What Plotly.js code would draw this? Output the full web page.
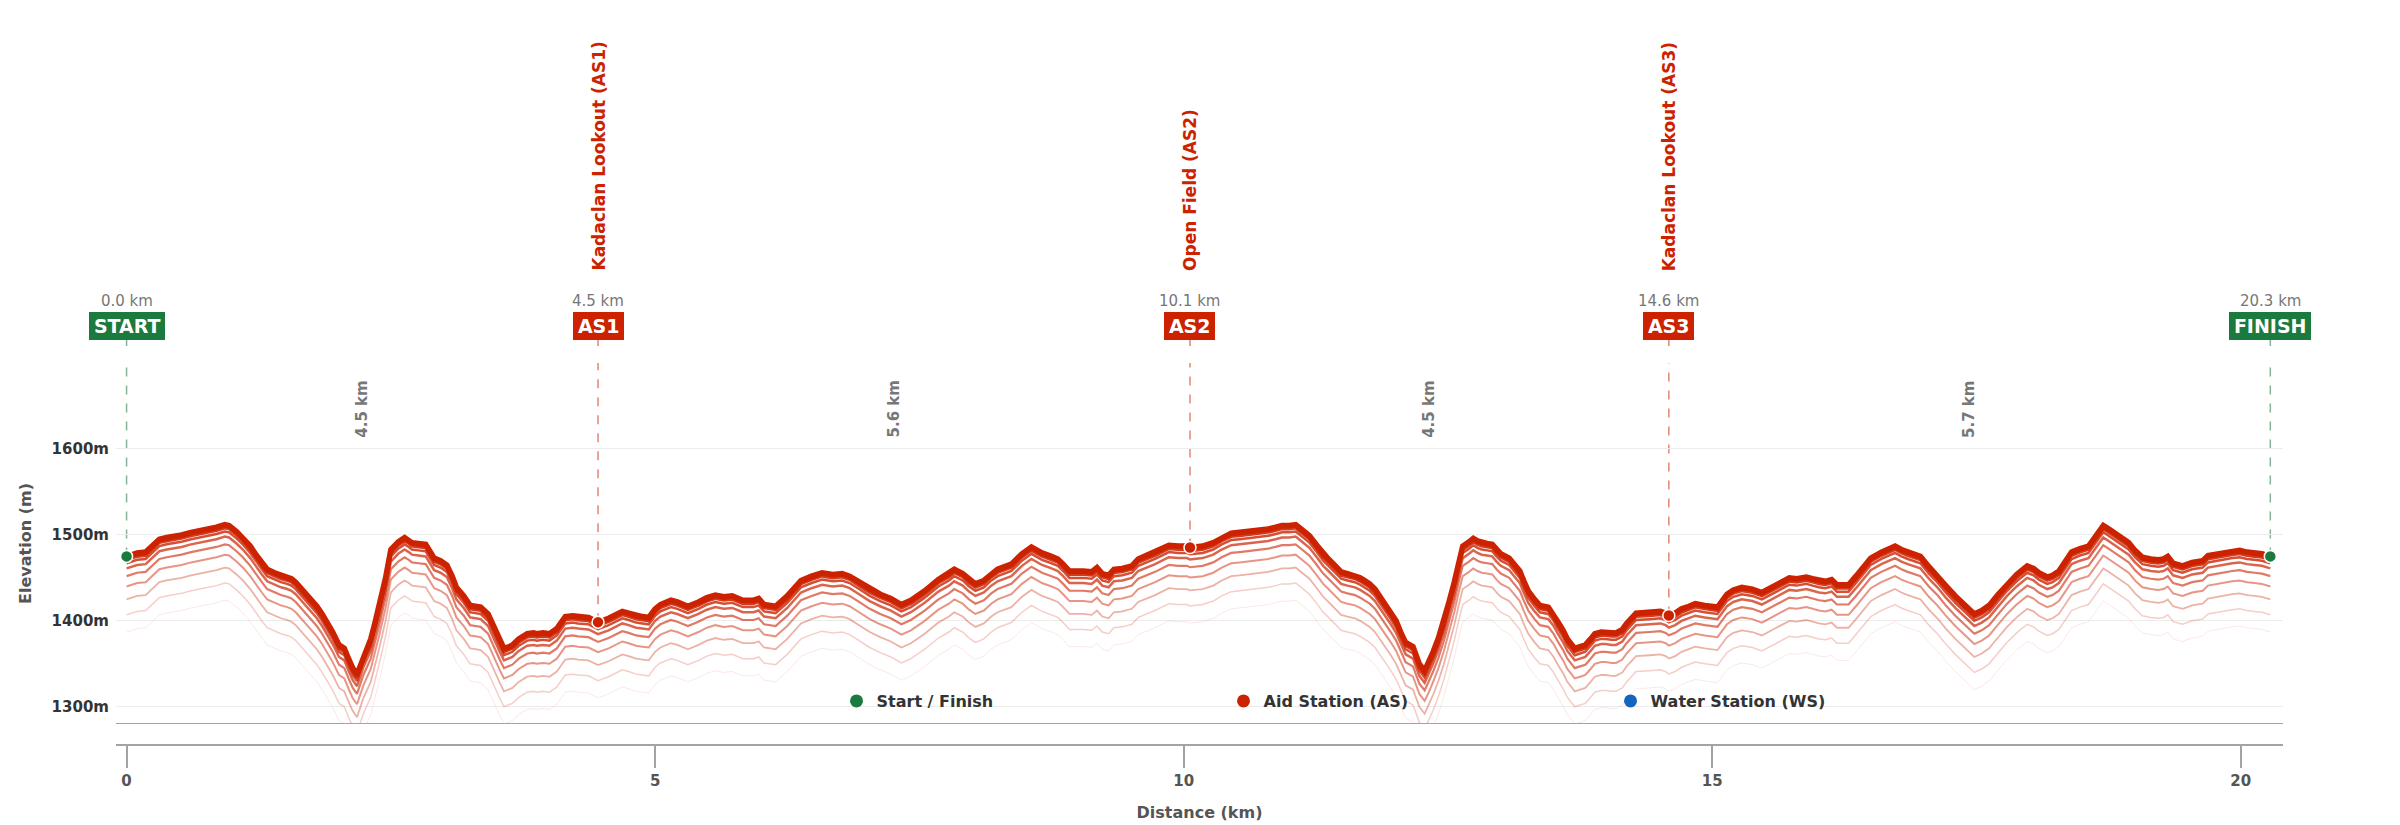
<!DOCTYPE html>
<html>
<head>
<meta charset="utf-8">
<script src="https://cdn.plot.ly/plotly-3.0.1.min.js"></script>
<style>html,body{margin:0;padding:0;background:#fff}#chart{width:2400px;height:825px}</style>
</head>
<body>
<div id="chart"></div>
<script>
// ---- data ----
const distKm = [0.00,0.05,0.10,0.18,0.25,0.31,0.38,0.44,0.52,0.61,0.70,0.77,0.85,0.93,0.97,1.04,1.10,1.17,1.23,1.28,1.33,1.40,1.46,1.52,1.56,1.60,1.65,1.70,1.75,1.80,1.85,1.90,1.95,2.01,2.06,2.10,2.14,2.18,2.21,2.24,2.31,2.35,2.39,2.45,2.50,2.57,2.63,2.67,2.70,2.76,2.83,2.87,2.91,2.97,3.03,3.08,3.12,3.19,3.25,3.30,3.35,3.42,3.48,3.53,3.57,3.62,3.65,3.71,3.79,3.85,3.88,3.94,4.00,4.07,4.15,4.22,4.27,4.37,4.42,4.46,4.56,4.62,4.69,4.75,4.82,4.88,4.94,5.00,5.05,5.15,5.21,5.31,5.41,5.49,5.57,5.65,5.73,5.83,5.93,5.98,6.03,6.14,6.25,6.38,6.48,6.58,6.68,6.77,6.84,6.93,7.03,7.13,7.23,7.33,7.42,7.55,7.68,7.78,7.83,7.91,7.97,8.03,8.11,8.18,8.24,8.37,8.47,8.56,8.66,8.75,8.81,8.86,8.92,9.05,9.13,9.18,9.23,9.29,9.34,9.42,9.51,9.57,9.65,9.73,9.86,9.95,10.03,10.06,10.18,10.28,10.36,10.45,10.53,10.61,10.70,10.80,10.87,10.93,11.00,11.06,11.12,11.19,11.26,11.32,11.37,11.42,11.49,11.55,11.62,11.67,11.71,11.76,11.81,11.86,11.91,11.96,12.01,12.06,12.10,12.17,12.23,12.28,12.32,12.36,12.41,12.46,12.51,12.56,12.60,12.64,12.70,12.74,12.78,12.82,12.87,12.92,12.96,13.00,13.08,13.13,13.18,13.22,13.26,13.32,13.37,13.45,13.50,13.54,13.59,13.63,13.70,13.75,13.80,13.85,13.89,13.95,13.99,14.05,14.09,14.15,14.19,14.28,14.35,14.41,14.51,14.56,14.59,14.65,14.71,14.78,14.84,14.93,15.00,15.05,15.14,15.20,15.28,15.38,15.47,15.53,15.59,15.66,15.73,15.80,15.89,15.95,16.01,16.07,16.13,16.18,16.24,16.29,16.36,16.43,16.50,16.60,16.73,16.79,16.85,16.97,17.05,17.13,17.21,17.30,17.39,17.48,17.55,17.62,17.70,17.79,17.88,17.98,18.04,18.09,18.17,18.22,18.28,18.34,18.40,18.48,18.56,18.63,18.70,18.75,18.80,18.87,18.94,19.00,19.07,19.15,19.22,19.27,19.31,19.36,19.45,19.54,19.60,19.64,19.69,19.77,19.85,19.92,19.99,20.06,20.13,20.20,20.28];
const elevM = [1475,1477,1479,1480,1488,1495,1497,1498,1500,1503,1505,1507,1509,1512,1511,1504,1497,1487,1476,1468,1460,1456,1453,1451,1449,1445,1438,1431,1425,1417,1408,1398,1387,1372,1368,1356,1345,1338,1348,1360,1379,1398,1418,1450,1483,1492,1497,1494,1491,1490,1489,1481,1473,1470,1465,1452,1439,1429,1418,1417,1416,1408,1391,1378,1368,1370,1372,1379,1385,1386,1385,1386,1385,1391,1405,1406,1405,1404,1401,1398.5,1403,1407,1411,1409,1406,1405,1404,1414,1419,1424,1422,1417,1422,1427,1430,1428,1429,1424,1424,1426,1419,1417,1429,1447,1452,1456,1454,1455,1452,1445,1437,1431,1426,1419,1424,1435,1448,1455,1460,1455,1448,1443,1447,1455,1460,1466,1478,1486,1479,1475,1472,1466,1458,1458,1457,1462,1455,1453,1460,1461,1464,1472,1476,1480,1488,1487,1487,1485.4,1487,1491,1497,1502,1503,1504,1505,1507,1509,1511,1511,1512,1506,1499,1488,1478,1472,1466,1457,1455,1453,1450,1447,1443,1437,1428,1420,1410,1400,1385,1375,1370,1350,1342,1352,1364,1380,1399,1422,1445,1467,1487,1492,1496,1493,1491,1490,1489,1483,1478,1473,1466,1458,1446,1435,1425,1418,1416,1408,1399,1389,1379,1368,1370,1372,1379,1385,1387,1387,1386,1386,1390,1397,1409,1410,1410,1411,1409,1406.2,1409,1414,1417,1420,1418,1417,1416,1431,1436,1439,1437,1433,1437,1441,1446,1450,1449,1451,1449,1447,1446,1448,1442,1442,1442,1452,1463,1473,1480,1487,1483,1480,1475,1463,1453,1441,1429,1418,1408,1412,1418,1430,1443,1454,1464,1461,1456,1451,1453,1458,1469,1480,1484,1487,1499,1511,1507,1503,1497,1491,1482,1474,1472,1471,1472,1475,1467,1464,1468,1469,1470,1476,1478,1480,1481,1482,1480,1479,1478,1475];

const stationCodes = ['START', 'AS1', 'AS2', 'AS3', 'FINISH'];
const stationNames = ['', 'Kadaclan Lookout (AS1)', 'Open Field (AS2)', 'Kadaclan Lookout (AS3)', ''];
const stationKm = [0.00, 4.46, 10.06, 14.59, 20.28];
const stationElev = [1475, 1398.5, 1485.4, 1406.2, 1475];
const stationKind = ['sf', 'as', 'as', 'as', 'sf'];
const legendKinds = ['sf', 'as', 'ws'];
const legendNames = ['Start / Finish', 'Aid Station (AS)', 'Water Station (WS)'];
const yTickVals = [1300, 1400, 1500, 1600];
const yTickText = ['1300m', '1400m', '1500m', '1600m'];
const xTickVals = [0, 5, 10, 15, 20];

// ---- styles ----
const RED = '#cc2200';
const GREEN = '#1b7a3d';
const BLUE = '#1565c0';
const FONT = 'DejaVu Sans';
const kindColor = {sf: GREEN, as: RED, ws: BLUE};
const kindDash = {sf: 'rgba(27,122,61,0.55)', as: 'rgba(204,34,0,0.55)', ws: 'rgba(21,101,192,0.55)'};

// layered "glow" lines under the profile: drop (m), opacity, width
const glowDrop  = [88,   68,   50,   35,   23,   14,   8,    4,    1.5,  0];
const glowAlpha = [0.10, 0.22, 0.35, 0.48, 0.6,  0.7,  0.8,  0.88, 0.95, 1];
const glowWidth = [1,    1.5,  1.8,  2,    2.2,  2.5,  2.5,  3,    3.5,  5.5];

const traces = [];
glowDrop.forEach((d, i) => {
  traces.push({
    type: 'scatter', mode: 'lines',
    x: distKm, y: elevM.map(v => v - d),
    line: {color: `rgba(204,34,0,${glowAlpha[i]})`, width: glowWidth[i]},
    showlegend: false, hoverinfo: 'skip'
  });
});

// station markers on the profile
['sf', 'as'].forEach(kind => {
  const xs = [], ys = [];
  stationKm.forEach((k, i) => { if (stationKind[i] === kind) { xs.push(k); ys.push(stationElev[i]); } });
  traces.push({
    type: 'scatter', mode: 'markers', x: xs, y: ys, showlegend: false, hoverinfo: 'skip',
    marker: {size: 12, color: kindColor[kind], line: {color: '#ffffff', width: 1.5}},
    cliponaxis: false
  });
});
// legend entries
legendKinds.forEach((kind, i) => {
  traces.push({
    type: 'scatter', mode: 'markers', name: legendNames[i], x: [null], y: [null],
    marker: {size: 13, color: kindColor[kind]}
  });
});

const shapes = [];
const annotations = [];
const HS = '\u200A';
stationKm.forEach((k, i) => {
  const kind = stationKind[i];
  const c = kindColor[kind];
  shapes.push({type: 'line', xref: 'x', yref: 'y', x0: k, x1: k, y0: stationElev[i], y1: 1700,
    line: {color: kindDash[kind], width: 1.5, dash: 'dash'}, layer: 'below'});
  annotations.push({x: k, xref: 'x', y: 1, yref: 'paper', text: HS + stationCodes[i] + HS,
    showarrow: true, arrowhead: 0, arrowwidth: 1.5, arrowcolor: kindDash[kind],
    ax: 0, ay: -37, standoff: 17, bgcolor: c, bordercolor: c, borderwidth: 1, borderpad: 2,
    font: {family: FONT, size: 19, color: '#ffffff', weight: 'bold'}});
  annotations.push({x: k, xref: 'x', y: 1, yref: 'paper', yanchor: 'middle', yshift: 62,
    text: k.toFixed(1) + ' km', showarrow: false, font: {family: FONT, size: 15, color: '#777777'}});
  if (stationNames[i]) {
    annotations.push({x: k, xref: 'x', y: 1, yref: 'paper', yanchor: 'bottom', yshift: 90,
      textangle: -90, text: stationNames[i], showarrow: false,
      font: {family: FONT, size: 17, color: RED, weight: 'bold'}});
  }
  if (i > 0) {
    const a = stationKm[i - 1];
    annotations.push({x: (a + k) / 2, xref: 'x', y: 1646, yref: 'y', textangle: -90,
      text: (k - a).toFixed(1) + ' km', showarrow: false,
      font: {family: FONT, size: 15, color: '#777777', weight: 'bold'}});
  }
});
shapes.push({type: 'line', xref: 'paper', yref: 'y', x0: 0, x1: 1, y0: 1280, y1: 1280,
  line: {color: '#a3a3a3', width: 2}});

const layout = {
  width: 2400, height: 825,
  margin: {l: 116, r: 117, t: 363, b: 80, autoexpand: false},
  paper_bgcolor: '#ffffff', plot_bgcolor: '#ffffff',
  font: {family: FONT, color: '#333333'},
  showlegend: true,
  legend: {orientation: 'h', x: 0.3325, xanchor: 'left', y: 0.115, yanchor: 'middle',
    entrywidth: 342, bgcolor: 'rgba(0,0,0,0)',
    font: {family: FONT, size: 16, color: '#333333', weight: 'bold'}},
  xaxis: {range: [-0.1, 20.4], anchor: 'free', position: 0, showline: true, linecolor: '#a3a3a3',
    linewidth: 2, ticks: 'outside', ticklen: 22, tickwidth: 2, tickcolor: '#a3a3a3',
    tickvals: xTickVals, tickfont: {family: FONT, size: 15, color: '#555555', weight: 'bold'},
    showgrid: false, zeroline: false,
    title: {text: 'Distance (km)', standoff: 17, font: {family: FONT, size: 16, color: '#555555', weight: 'bold'}}},
  yaxis: {domain: [0.055, 1], range: [1280, 1700], tickmode: 'array', tickvals: yTickVals, ticktext: yTickText,
    ticks: 'outside', ticklen: 3, tickcolor: 'rgba(0,0,0,0)',
    tickfont: {family: FONT, size: 15, color: '#333333', weight: 'bold'},
    showgrid: true, gridcolor: '#ececec', gridwidth: 1, zeroline: false, showline: false,
    title: {text: 'Elevation (m)', standoff: 15, font: {family: FONT, size: 16, color: '#555555', weight: 'bold'}}},
  shapes: shapes,
  annotations: annotations
};

Plotly.newPlot('chart', traces, layout, {displayModeBar: false, staticPlot: true});
</script>
</body>
</html>
